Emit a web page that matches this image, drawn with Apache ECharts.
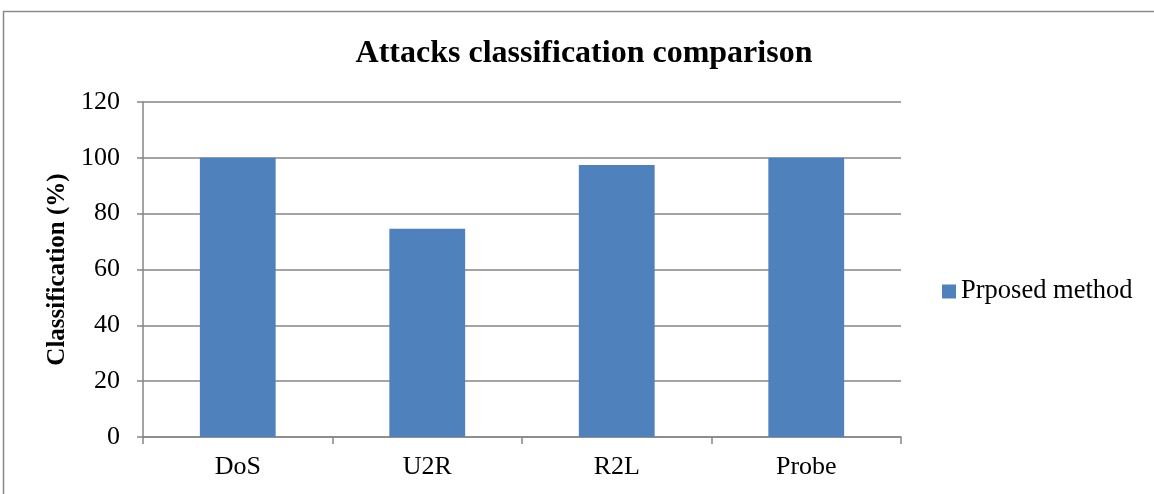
<!DOCTYPE html>
<html>
<head>
<meta charset="utf-8">
<script src="https://cdn.jsdelivr.net/npm/echarts@6/dist/echarts.min.js"></script>
<style>
  html, body { margin: 0; padding: 0; background: #fff; }
  #chart { width: 1154px; height: 494px; }
</style>
</head>
<body>
<div id="chart"></div>
<script>
// Attack categories and the classification rate of the proposed method
const categories = ['DoS', 'U2R', 'R2L', 'Probe'];
const proposedMethod = [100, 74.6, 97.4, 100];
const seriesName = 'Prposed method';

const serif = '"Liberation Serif", "DejaVu Serif", serif';
const axisGray = '#868686';

const chart = echarts.init(document.getElementById('chart'), null, { renderer: 'canvas' });

chart.setOption({
  animation: false,
  backgroundColor: '#ffffff',
  graphic: [{
    type: 'rect',
    shape: { x: 3.5, y: 11.5, width: 1160, height: 500 },
    style: { fill: 'none', stroke: '#8a8a8a', lineWidth: 1.5 }
  }],
  title: {
    text: 'Attacks classification comparison',
    left: 579,
    textAlign: 'center',
    top: 33,
    textStyle: { fontFamily: serif, fontSize: 32, fontWeight: 'bold', color: '#000' }
  },
  legend: {
    data: [seriesName],
    left: 937,
    top: 273,
    itemWidth: 14,
    itemHeight: 14,
    icon: 'rect',
    textStyle: { fontFamily: serif, fontSize: 26.5, color: '#000' }
  },
  grid: { left: 143, right: 253, top: 102, bottom: 57, containLabel: false },
  xAxis: {
    type: 'category',
    data: categories,
    axisLine: { lineStyle: { color: axisGray, width: 1.5 } },
    axisTick: { show: true, length: 7, alignWithLabel: false, lineStyle: { color: axisGray, width: 1.5 } },
    axisLabel: { fontFamily: serif, fontSize: 26, color: '#000', margin: 17 }
  },
  yAxis: {
    type: 'value',
    min: 0,
    max: 120,
    interval: 20,
    name: 'Classification (%)',
    nameLocation: 'middle',
    nameGap: 67,
    nameTextStyle: { fontFamily: serif, fontSize: 25, fontWeight: 'bold', color: '#000' },
    axisLine: { show: true, lineStyle: { color: axisGray, width: 1.5 } },
    axisTick: { show: true, length: 6, lineStyle: { color: axisGray, width: 1.5 } },
    axisLabel: { fontFamily: serif, fontSize: 26, color: '#000', margin: 23 },
    splitLine: { show: true, lineStyle: { color: axisGray, width: 1.5 } }
  },
  series: [{
    name: seriesName,
    type: 'bar',
    data: proposedMethod,
    barWidth: '40%',
    itemStyle: { color: '#4f81bd' }
  }]
});
</script>
</body>
</html>
